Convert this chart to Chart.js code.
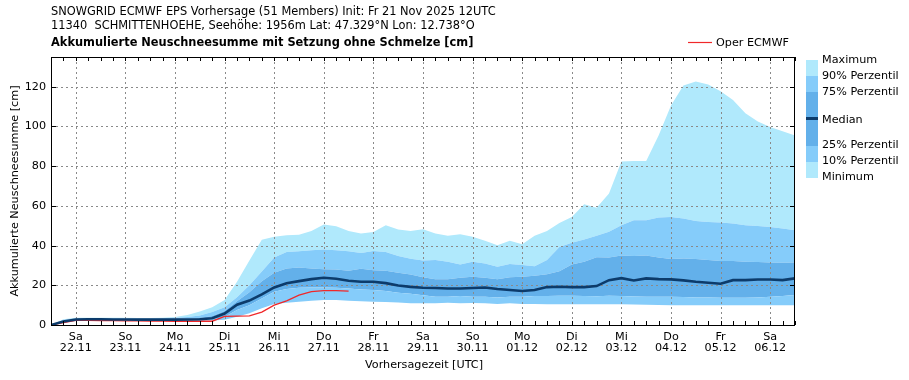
<!DOCTYPE html>
<html>
<head>
<meta charset="utf-8">
<script src="https://cdn.jsdelivr.net/npm/chart.js@4.4.1/dist/chart.umd.min.js"></script>
<style>
  html, body { margin: 0; padding: 0; background: #ffffff; }
  #wrap { width: 909px; height: 380px; position: relative; }
  canvas { display: block; background: #ffffff; }
</style>
</head>
<body>
<div id="wrap"><canvas id="c" width="909" height="380"></canvas></div>
<script>
// ---- Data (forecast hours since init Fr 21 Nov 2025 12UTC, 6-hourly) ----
const hours = [0,6,12,18,24,30,36,42,48,54,60,66,72,78,84,90,96,102,108,114,120,126,132,138,144,150,156,162,168,174,180,186,192,198,204,210,216,222,228,234,240,246,252,258,264,270,276,282,288,294,300,306,312,318,324,330,336,342,348,354,360];

const minimum = [0,0.5,1.3,1.5,1.5,1.5,1.5,1.5,1.4,1.4,1.4,1.4,1.4,1.4,1.7,2.5,4,5.5,6.7,7.5,7.9,8.5,9,9,9,8.7,8.4,8.2,7.9,7.3,6.8,6.6,6.4,6.1,5.9,5.8,5.7,5.6,5.5,5.5,5.5,5.5,5.5,5.4,5.3,5.3,5.3,5.2,5.2,5.1,5.1,5.1,5.0,5.0,5.0,5.0,4.9,4.9,4.8,4.8,4.7];
const perc10 = [0,1.0,2.0,2.1,2.1,2.1,2.1,2.0,2.0,2.0,2.0,2.0,2.1,2.3,2.6,4.2,5.9,8.4,10.6,11.2,11.7,12.2,12.6,12.6,12.2,12.0,11.7,11.6,11.3,11.0,10.9,10.9,11.2,10.9,11.1,10.9,10.6,10.9,10.6,10.6,10.5,10.4,10.4,10.4,10.4,10.4,10.4,10.3,10.2,10.1,10.0,10.0,10.0,10.0,10.0,10.0,10.0,10.0,10.0,10.0,10.0];
const perc25 = [0,1.5,2.4,2.5,2.5,2.5,2.4,2.4,2.4,2.4,2.4,2.5,2.6,2.9,4.0,7.5,10.0,13.4,16.8,18.1,18.8,18.9,18.9,18.8,18.4,17.9,17.6,17.1,16.3,15.8,15.0,14.2,14.2,14.6,14.2,14.2,13.9,14.2,14.2,14.6,14.6,14.7,14.7,14.6,14.5,14.7,14.6,14.4,14.2,14.2,14.2,14.1,13.9,13.8,13.7,13.7,13.7,13.9,14.2,14.6,15.1];
const median = [0,1.8,2.8,2.9,2.9,2.8,2.8,2.7,2.7,2.7,2.7,2.8,2.9,3.4,5.8,10.2,12.3,15.4,18.9,21.0,22.1,23.1,23.8,23.3,22.3,21.8,21.8,21.1,19.9,19.2,18.8,18.6,18.4,18.4,18.6,18.9,18.1,17.6,17.1,17.6,19.1,19.3,19.1,19.1,19.6,22.6,23.6,22.4,23.5,23.1,23.0,22.5,21.8,21.3,20.8,22.6,22.6,22.9,22.9,22.6,23.5];
const perc75 = [0,2.2,3.1,3.2,3.2,3.1,3.1,3.0,3.0,3.0,3.1,3.2,3.5,4.5,7.0,12.0,16.5,22.0,26.3,28.5,29.0,28.5,28.1,27.9,27.3,28.3,27.6,27.3,26.3,25.5,24.0,23.1,23.1,23.8,24.3,23.8,23.1,24.0,24.3,24.8,25.6,27.1,30.5,31.8,34.1,34.0,35.0,34.7,35.0,34.0,33.3,33.5,33.2,32.7,32.3,32.2,31.8,31.7,31.5,31.3,31.5];
const perc90 = [0,2.6,3.3,3.4,3.4,3.4,3.3,3.3,3.3,3.4,3.6,4.0,4.8,6.5,9.0,14.0,20.0,27.0,34.0,36.8,37.2,37.7,38.0,37.7,37.2,36.3,37.3,36.8,34.7,33.4,32.5,32.7,31.8,30.5,31.8,31.0,29.3,30.7,30.2,29.6,32.7,39.3,41.4,43.1,44.9,47.0,50.3,52.8,52.8,54.1,54.4,53.6,52.4,51.9,51.6,51.1,50.3,49.9,49.4,48.6,47.7];
const maximum = [0,2.9,3.6,3.7,3.7,3.6,3.6,3.5,3.5,3.6,4.0,5.0,6.8,9.0,12.6,21.8,32.5,43.0,44.4,45.2,45.4,47.4,50.6,49.7,47.4,46.1,46.9,50.3,48.1,47.4,48.2,46.1,44.9,45.7,44.4,42.4,40.2,42.4,40.7,44.9,47.4,51.4,54.4,60.8,59.1,66.2,82.4,82.6,82.6,95.5,110.6,120.6,122.6,121.1,117.7,113.4,106.7,102.5,99.7,97.6,95.5];
const operHours = [0,6,12,18,24,30,36,42,48,54,60,66,72,78,84,90,96,102,108,114,120,126,132,138,144];
const operEcmwf = [0,1.2,2.3,2.3,2.2,2.2,2.1,2.1,2.0,2.0,1.9,1.9,1.9,1.9,4.3,4.5,4.6,6.5,10.0,12.2,15.0,16.8,17.3,17.3,17.1];

// ---- Tick labels ----
const dayTickHours = [12,36,60,84,108,132,156,180,204,228,252,276,300,324,348];
const dayNames = ['Sa','So','Mo','Di','Mi','Do','Fr','Sa','So','Mo','Di','Mi','Do','Fr','Sa'];
const dayDates = ['22.11','23.11','24.11','25.11','26.11','27.11','28.11','29.11','30.11','01.12','02.12','03.12','04.12','05.12','06.12'];
const yTickValues = [0,20,40,60,80,100,120];

// ---- Texts ----
const headerLine1 = 'SNOWGRID ECMWF EPS Vorhersage (51 Members) Init: Fr 21 Nov 2025 12UTC';
const headerLine2 = '11340  SCHMITTENHOEHE, Seehöhe: 1956m Lat: 47.329°N Lon: 12.738°O';
const headerLine3 = 'Akkumulierte Neuschneesumme mit Setzung ohne Schmelze [cm]';
const yTitle = 'Akkumulierte Neuschneesumme [cm]';
const xTitle = 'Vorhersagezeit [UTC]';
const operLabel = 'Oper ECMWF';
const legendLabels = ['Maximum','90% Perzentil','75% Perzentil','Median','25% Perzentil','10% Perzentil','Minimum'];

// ---- Styles ----
const C_LIGHT = '#b0e9fc';
const C_MID = '#85ccfa';
const C_DARK = '#63b0ea';
const C_MEDIAN = '#0c3b6b';
const C_OPER = '#f0282a';
const C_GRID = '#8a8a8a';
const FONT = '"DejaVu Sans", "Liberation Sans", sans-serif';

const pts = (xs, ys) => ys.map((v, i) => ({ x: xs[i], y: v }));

const band = (label, ys, color) => ({
  label, data: pts(hours, ys), borderWidth: 0, pointRadius: 0,
  backgroundColor: color, fill: '-1', tension: 0
});

const gridPlugin = {
  id: 'dottedGrid',
  beforeDatasetsDraw(chart) {
    const ctx = chart.ctx;
    const a = chart.chartArea;
    const xs = chart.scales.x, ys = chart.scales.y;
    ctx.save();
    ctx.strokeStyle = C_GRID;
    ctx.lineWidth = 1;
    ctx.setLineDash([2, 3]);
    ctx.beginPath();
    dayTickHours.forEach(h => {
      const px = Math.round(xs.getPixelForValue(h)) + 0.5;
      ctx.moveTo(px, a.top); ctx.lineTo(px, a.bottom);
    });
    yTickValues.forEach(v => {
      if (v === 0) return;
      const py = Math.round(ys.getPixelForValue(v)) + 0.5;
      ctx.moveTo(a.left, py); ctx.lineTo(a.right, py);
    });
    ctx.stroke();
    ctx.restore();
  }
};

const decorPlugin = {
  id: 'decor',
  afterDraw(chart) {
    const ctx = chart.ctx;
    const a = chart.chartArea;
    const xs = chart.scales.x, ys = chart.scales.y;
    ctx.save();
    // frame
    ctx.strokeStyle = '#000';
    ctx.lineWidth = 1;
    ctx.strokeRect(a.left + 0.5, a.top + 0.5, a.right - a.left - 1, a.bottom - a.top);
    // inward tick marks
    ctx.beginPath();
    hours.forEach(h => {
      const px = Math.round(xs.getPixelForValue(h)) + 0.5;
      ctx.moveTo(px, a.bottom); ctx.lineTo(px, a.bottom - 4);
      ctx.moveTo(px, a.top); ctx.lineTo(px, a.top + 4);
    });
    yTickValues.forEach(v => {
      const py = Math.round(ys.getPixelForValue(v)) + 0.5;
      ctx.moveTo(a.left, py); ctx.lineTo(a.left + 5, py);
      ctx.moveTo(a.right, py); ctx.lineTo(a.right - 5, py);
    });
    ctx.stroke();

    ctx.fillStyle = '#000';
    ctx.textBaseline = 'middle';
    ctx.textAlign = 'left';
    ctx.font = '11.4px ' + FONT;
    ctx.fillText(headerLine1, 51, 12);
    ctx.fillText(headerLine2, 51, 26);
    ctx.font = 'bold 11.4px ' + FONT;
    ctx.fillText(headerLine3, 51, 43);

    // oper legend
    ctx.strokeStyle = C_OPER; ctx.lineWidth = 1.2;
    ctx.beginPath(); ctx.moveTo(688, 42.5); ctx.lineTo(712, 42.5); ctx.stroke();
    ctx.font = '11.2px ' + FONT;
    ctx.fillText(operLabel, 716, 43);

    // percentile legend bar
    const bx = 806, bw = 12;
    const segs = [[60,76,C_LIGHT],[76,92,C_MID],[92,117,C_DARK],[117,120,C_MEDIAN],[120,146,C_DARK],[146,162,C_MID],[162,178,C_LIGHT]];
    segs.forEach(s => { ctx.fillStyle = s[2]; ctx.fillRect(bx, s[0], bw, s[1] - s[0]); });
    ctx.fillStyle = '#000';
    const ly = [60, 76, 92, 120, 145, 161, 177];
    legendLabels.forEach((t, i) => ctx.fillText(t, 822, ly[i]));

    // axis titles
    ctx.font = '11.2px ' + FONT;
    ctx.textAlign = 'center';
    ctx.fillText(xTitle, (a.left + a.right) / 2 + 1, 365);
    ctx.translate(15, (a.top + a.bottom) / 2);
    ctx.rotate(-Math.PI / 2);
    ctx.fillText(yTitle, 0, 0);
    ctx.restore();
  }
};

new Chart(document.getElementById('c'), {
  type: 'line',
  data: {
    datasets: [
      { label: 'Minimum', data: pts(hours, minimum), borderWidth: 0, pointRadius: 0, fill: false },
      band('10% Perzentil', perc10, C_LIGHT),
      band('25% Perzentil', perc25, C_MID),
      band('75% Perzentil', perc75, C_DARK),
      band('90% Perzentil', perc90, C_MID),
      band('Maximum', maximum, C_LIGHT),
      { label: 'Median', data: pts(hours, median), borderColor: C_MEDIAN, borderWidth: 2.6, pointRadius: 0, fill: false },
      { label: 'Oper ECMWF', data: pts(operHours, operEcmwf), borderColor: C_OPER, borderWidth: 1.3, pointRadius: 0, fill: false }
    ]
  },
  options: {
    responsive: false,
    animation: false,
    layout: { padding: { top: 57, right: 114, bottom: 0, left: 0 } },
    plugins: {
      legend: { display: false },
      tooltip: { enabled: false },
      title: { display: false },
      filler: { drawTime: 'beforeDraw', propagate: false }
    },
    scales: {
      x: {
        type: 'linear', min: 0, max: 360,
        afterBuildTicks: (s) => { s.ticks = dayTickHours.map(v => ({ value: v })); },
        afterFit: (s) => { s.height = 55; },
        ticks: {
          autoSkip: false, maxRotation: 0, padding: 7, color: '#000',
          font: { family: FONT, size: 11.2, lineHeight: 0.95 },
          callback: (v) => { const i = dayTickHours.indexOf(v); return i >= 0 ? [dayNames[i], dayDates[i]] : ''; }
        },
        grid: { display: false, drawTicks: false },
        border: { display: false }
      },
      y: {
        type: 'linear', min: 0, max: 135,
        afterBuildTicks: (s) => { s.ticks = yTickValues.map(v => ({ value: v })); },
        afterFit: (s) => { s.width = 51; },
        ticks: { padding: 5, color: '#000', font: { family: FONT, size: 11.2 } },
        grid: { display: false, drawTicks: false },
        border: { display: false }
      }
    }
  },
  plugins: [gridPlugin, decorPlugin]
});
</script>
</body>
</html>
